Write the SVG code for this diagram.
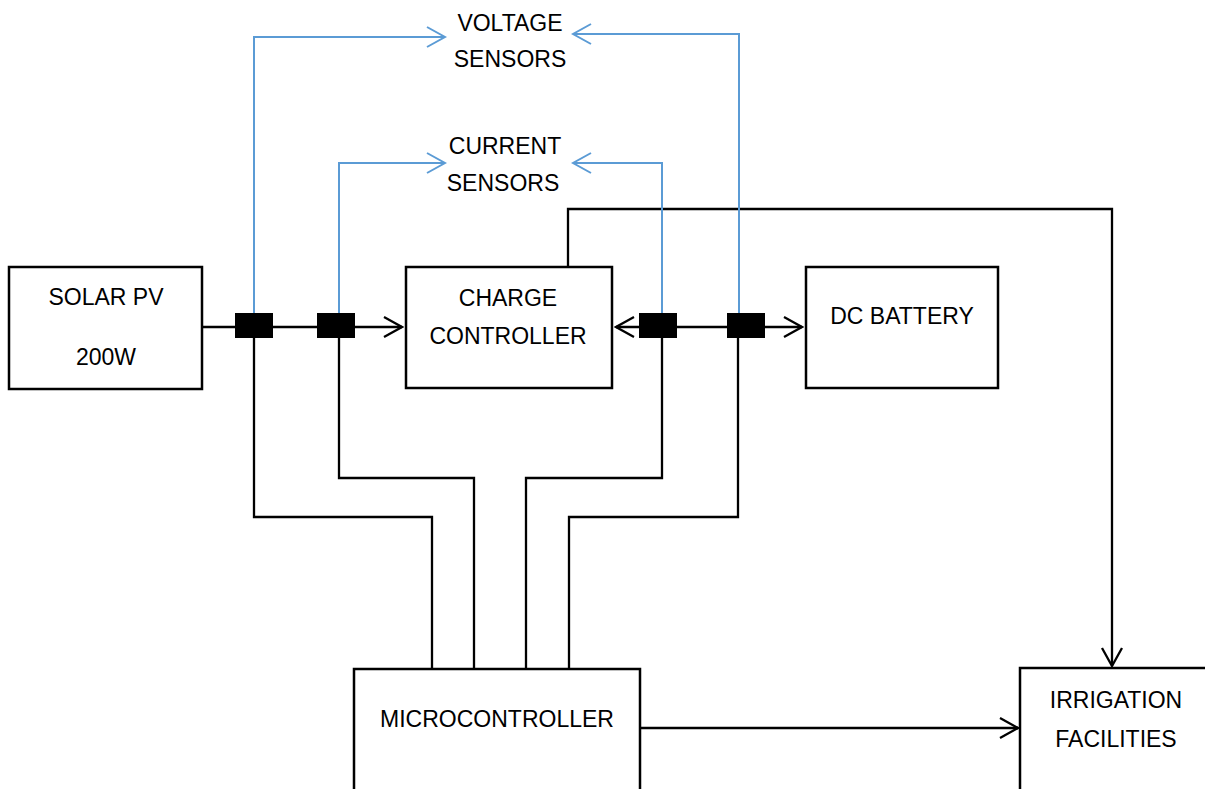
<svg xmlns="http://www.w3.org/2000/svg" width="1205" height="789" viewBox="0 0 1205 789">
<style>
  .box { fill: #ffffff; stroke: #000000; stroke-width: 2.5; }
  .lbl { font-family: "Liberation Sans", Arial, sans-serif; font-size: 23px; fill: #000000; text-anchor: middle; }
  .wire { fill: none; stroke: #000000; stroke-width: 2.3; }
  .sense { fill: none; stroke: #5B9BD5; stroke-width: 2; }
  .tap { fill: #000000; stroke: none; }
</style>
<defs>
  <marker id="arrK" markerUnits="userSpaceOnUse" viewBox="-2 -2 22 24" refX="18" refY="10" markerWidth="22" markerHeight="24" orient="auto-start-reverse">
    <path d="M0,0 L18,10 L0,20" fill="none" stroke="#000000" stroke-width="2.3"/>
  </marker>
  <marker id="arrB" markerUnits="userSpaceOnUse" viewBox="-2 -2 22 24" refX="18" refY="10" markerWidth="22" markerHeight="24" orient="auto-start-reverse">
    <path d="M0,0 L18,10 L0,20" fill="none" stroke="#5B9BD5" stroke-width="2"/>
  </marker>
</defs>

<g id="connectors">
  <!-- main power line -->
  <line class="wire" x1="202" y1="327" x2="402" y2="327" marker-end="url(#arrK)"/>
  <line class="wire" x1="616" y1="327" x2="802" y2="327" marker-start="url(#arrK)" marker-end="url(#arrK)"/>
  <!-- charge controller to irrigation -->
  <polyline class="wire" points="568,267 568,209 1112,209 1112,666" marker-end="url(#arrK)"/>
  <!-- sensors to microcontroller -->
  <polyline class="wire" points="254,337 254,517 432,517 432,669"/>
  <polyline class="wire" points="339,337 339,478 474,478 474,669"/>
  <polyline class="wire" points="662,337 662,478 526,478 526,669"/>
  <polyline class="wire" points="738,337 738,517 569,517 569,669"/>
  <!-- microcontroller to irrigation -->
  <line class="wire" x1="641" y1="728" x2="1018" y2="728" marker-end="url(#arrK)"/>
  <!-- blue sensor lines -->
  <polyline class="sense" points="254,314 254,37 445,37" marker-end="url(#arrB)"/>
  <polyline class="sense" points="739,314 739,34 573,34" marker-end="url(#arrB)"/>
  <polyline class="sense" points="339,314 339,163 445,163" marker-end="url(#arrB)"/>
  <polyline class="sense" points="662,314 662,163 573,163" marker-end="url(#arrB)"/>
  <!-- tap blocks -->
  <rect class="tap" x="235" y="313" width="38" height="25"/>
  <rect class="tap" x="317" y="313" width="38" height="25"/>
  <rect class="tap" x="639" y="313" width="38" height="25"/>
  <rect class="tap" x="727" y="313" width="38" height="25"/>
</g>

<g id="solar-pv">
  <rect class="box" x="9" y="267" width="193" height="122"/>
  <text class="lbl" x="106" y="305">SOLAR PV</text>
  <text class="lbl" x="106" y="365">200W</text>
</g>

<g id="charge-controller">
  <rect class="box" x="406" y="267" width="206" height="121"/>
  <text class="lbl" x="508" y="306">CHARGE</text>
  <text class="lbl" x="508" y="344">CONTROLLER</text>
</g>

<g id="dc-battery">
  <rect class="box" x="806" y="267" width="192" height="121"/>
  <text class="lbl" x="902" y="324">DC BATTERY</text>
</g>

<g id="voltage-sensors">
  <text class="lbl" x="510" y="31">VOLTAGE</text>
  <text class="lbl" x="510" y="67">SENSORS</text>
</g>

<g id="current-sensors">
  <text class="lbl" x="505" y="154">CURRENT</text>
  <text class="lbl" x="503" y="191">SENSORS</text>
</g>

<g id="microcontroller">
  <rect class="box" x="354" y="669" width="286" height="140"/>
  <text class="lbl" x="497" y="727">MICROCONTROLLER</text>
</g>

<g id="irrigation-facilities">
  <rect class="box" x="1020" y="668" width="200" height="140"/>
  <text class="lbl" x="1116" y="708">IRRIGATION</text>
  <text class="lbl" x="1116" y="747">FACILITIES</text>
</g>
</svg>
